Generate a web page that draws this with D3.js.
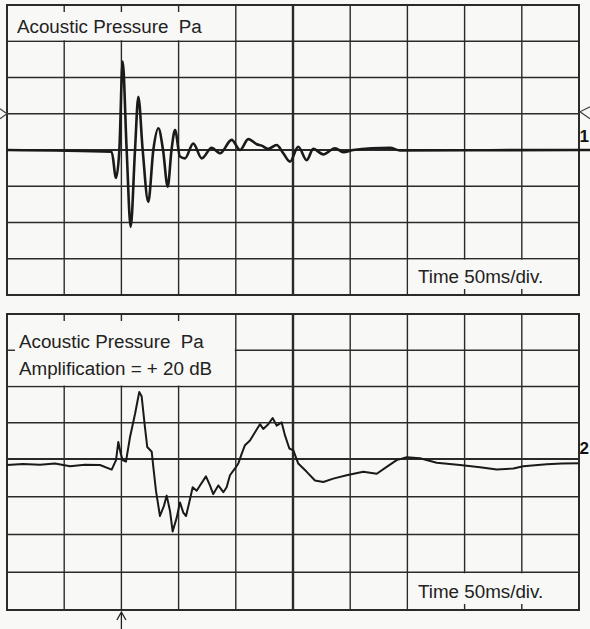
<!DOCTYPE html>
<html>
<head>
<meta charset="utf-8">
<script src="https://cdn.jsdelivr.net/npm/d3@7"></script>
<style>
  body { margin: 0; background: #f8f8f6; }
  svg { display: block; }
</style>
</head>
<body>
<script>
const POLICE = '"Liberation Sans", Arial, Helvetica, sans-serif'
const COULEUR_FOND = '#f8f8f6'
const COULEUR_GRILLE = '#2a2a2a'
const COULEUR_TRACE = '#1a1a1a'

const width = 590,
    height = 629

// 10 divisions of 50 ms, 8 vertical divisions
const timeTicks = [0, 50, 100, 150, 200, 250, 300, 350, 400, 450, 500]
const divTicks = [-4, -3, -2, -1, 0, 1, 2, 3, 4]

// trace 1 (time ms, pressure in divisions)
const topTime = [0, 91.5, 95.3, 98.2, 101.1, 104.6, 108.1, 111.9, 114.8, 118.6, 123.5, 127.9, 132.3, 136.4, 140.5, 143.8, 146.9,
    151.2, 155.6, 162.8, 170.2, 178.9, 186.2, 196.4, 203.7, 210.9, 218.3, 222.6, 228.4, 235.7, 241.5, 247.4, 254.6,
    262.0, 267.7, 276.5, 286.7, 294.0, 302.7, 318.8, 334.8, 343.5, 500, 513]
const topPressure = [0, -0.05, -0.77, 0, 2.44, 0, -2.12, 0, 1.47, 0, -1.43, 0, 0.6, 0, -1.01, 0, 0.55,
    -0.18, -0.23, 0.18, -0.23, 0.06, -0.09, 0.28, 0, 0.3, 0.16, 0.12, 0.03, 0.14, -0.09, -0.32, 0.09,
    -0.28, 0.03, -0.12, 0.05, -0.06, 0, 0.05, 0.06, -0.01, 0, 0]

// trace 2, +20 dB
const bottomTime = [0, 14, 28.8, 42, 55.1, 68, 81.3, 91.5, 95.3, 97.3, 99.4, 101.1, 104.0, 107.5, 111.9, 115.6, 117.7, 120.6,
    122.6, 126.5, 127.9, 130.2, 133.7, 137.2, 139.6, 142.5, 144.8, 148.3, 151.2, 154.1, 156.5, 159.3, 162.3, 165.8,
    168.7, 173.9, 177.4, 180.3, 184.7, 189.1, 192.0, 194.9, 199.3, 202.2, 205.2, 208.0, 212.4, 216.8, 221.1, 224.0,
    228.4, 232.2, 235.7, 240.1, 243.0, 246.8, 250.3, 254.6, 262.0, 269.2, 276.5, 285.2, 296.9, 311.4, 323.2, 331.9,
    340.6, 349.4, 361.0, 375.6, 396.0, 413.5, 428.1, 442.6, 451.3, 471.8, 485, 500]
const bottomPressure = [-0.16, -0.13, -0.15, -0.12, -0.19, -0.15, -0.16, -0.28, -0.03, 0.47, 0.15, -0.03, -0.07, 0.6, 1.24, 1.85, 1.73, 0.87,
    0.33, 0.2, -0.21, -0.84, -1.51, -1.24, -0.97, -1.38, -1.92, -1.56, -1.15, -1.42, -1.51, -1.15, -0.75, -0.84,
    -0.7, -0.46, -0.7, -0.93, -0.7, -0.88, -0.75, -0.43, -0.25, -0.12, 0.15, 0.38, 0.51, 0.74, 0.96, 0.83,
    0.96, 1.13, 0.92, 1.01, 0.65, 0.29, 0.24, -0.12, -0.34, -0.57, -0.61, -0.52, -0.43, -0.34, -0.39, -0.21,
    -0.03, 0.05, 0.02, -0.1, -0.16, -0.22, -0.28, -0.25, -0.19, -0.14, -0.12, -0.11]

const topLabels = ['Acoustic Pressure  Pa']
const bottomLabels = ['Acoustic Pressure  Pa', 'Amplification = + 20 dB']
const TIME_LABEL = 'Time 50ms/div.'
const TRIGGER_MS = 100

const svg = d3.select('body').append('svg')
    .attr('width', width).attr('height', height)
    .style('background-color', COULEUR_FOND)

const x = d3.scaleLinear().domain([0, 500]).range([7, 579])

function drawPanel(cfg) {
    const y = d3.scaleLinear().domain([-4, 0, 4]).range(cfg.yRange)
    const g = svg.append('g')

    // grid
    g.selectAll('line.v').data(timeTicks).join('line')
        .attr('x1', d => x(d)).attr('x2', d => x(d))
        .attr('y1', y(4)).attr('y2', y(-4))
        .attr('stroke', COULEUR_GRILLE).attr('stroke-width', d => d === 250 ? 2.4 : 1.4)
    g.selectAll('line.h').data(divTicks).join('line')
        .attr('x1', x(0)).attr('x2', x(500))
        .attr('y1', d => y(d)).attr('y2', d => y(d))
        .attr('stroke', COULEUR_GRILLE).attr('stroke-width', d => d === 0 ? 2.2 : 1.4)

    // label box (hides the grid under the text)
    g.append('rect')
        .attr('x', x(0) + 1).attr('y', y(4) + 1)
        .attr('width', x(200) - x(0) - 2).attr('height', y(cfg.boxBottom) - y(4) - 2)
        .attr('fill', COULEUR_FOND)
    g.append('rect')
        .attr('x', x(350) + 1).attr('y', y(-3) + 1)
        .attr('width', x(500) - x(350) - 2).attr('height', y(-4) - y(-3) - 2)
        .attr('fill', COULEUR_FOND)

    // small ticks where the grid is hidden
    g.selectAll('line.tt').data([50, 100, 150]).join('line')
        .attr('x1', d => x(d)).attr('x2', d => x(d))
        .attr('y1', y(4)).attr('y2', y(4) + 7)
        .attr('stroke', COULEUR_GRILLE).attr('stroke-width', 1.4)
    g.selectAll('line.tl').data(divTicks.filter(d => d > cfg.boxBottom && d < 4)).join('line')
        .attr('x1', x(0)).attr('x2', x(0) + 8)
        .attr('y1', d => y(d)).attr('y2', d => y(d))
        .attr('stroke', COULEUR_GRILLE).attr('stroke-width', 1.4)
    g.selectAll('line.tb').data([400, 450]).join('line')
        .attr('x1', d => x(d)).attr('x2', d => x(d))
        .attr('y1', y(-4)).attr('y2', y(-4) - 6)
        .attr('stroke', COULEUR_GRILLE).attr('stroke-width', 1.4)

    // border
    g.append('rect')
        .attr('x', x(0)).attr('y', y(4))
        .attr('width', x(500) - x(0)).attr('height', y(-4) - y(4))
        .attr('fill', 'none').attr('stroke', COULEUR_GRILLE).attr('stroke-width', 2)

    // texts
    g.selectAll('text.lab').data(cfg.labels).join('text')
        .attr('x', cfg.labelX).attr('y', (d, i) => y(4) + cfg.labelY + i * 27)
        .text(d => d)
        .attr('font-family', POLICE).attr('font-size', 18.8).attr('fill', '#222')
        .style('white-space', 'pre')
    g.append('text')
        .attr('x', 418).attr('y', y(-4) - 12)
        .text(TIME_LABEL)
        .attr('font-family', POLICE).attr('font-size', 18.8).attr('fill', '#222')

    // trace
    const line = d3.line()
        .x(d => x(d[0])).y(d => y(d[1]))
        .curve(cfg.curve)
    g.append('path')
        .datum(d3.zip(cfg.time, cfg.values))
        .attr('d', line)
        .attr('fill', 'none').attr('stroke', COULEUR_TRACE)
        .attr('stroke-width', cfg.traceWidth).attr('stroke-linejoin', 'round')

    // channel number
    g.append('text')
        .attr('x', 589).attr('y', cfg.numY)
        .attr('text-anchor', 'end')
        .text(cfg.num)
        .attr('font-family', POLICE).attr('font-size', 17).attr('font-weight', 'bold').attr('fill', '#111')

    return y
}

const yTop = drawPanel({
    yRange: [295, 150, 5], boxBottom: 3, labels: topLabels, labelX: 17, labelY: 28,
    time: topTime, values: topPressure, curve: d3.curveMonotoneX, traceWidth: 2.6,
    num: '1', numY: 142
})

drawPanel({
    yRange: [610, 459, 314], boxBottom: 2, labels: bottomLabels, labelX: 19, labelY: 34,
    time: bottomTime, values: bottomPressure, curve: d3.curveLinear, traceWidth: 2,
    num: '2', numY: 454
})

// trigger level markers on trace 1
const trig = yTop(1)
svg.append('path')
    .attr('d', `M0,${trig - 5}L7,${trig}L0,${trig + 5}`)
    .attr('fill', 'none').attr('stroke', '#444').attr('stroke-width', 1.2)
svg.append('path')
    .attr('d', `M590,${trig - 7}L580,${trig - 2}L590,${trig + 5}`)
    .attr('fill', 'none').attr('stroke', '#444').attr('stroke-width', 1.2)

// trigger time arrow
const ax = x(TRIGGER_MS)
svg.append('path')
    .attr('d', `M${ax},629V612M${ax - 4.5},620L${ax},612L${ax + 4.5},620`)
    .attr('fill', 'none').attr('stroke', '#222').attr('stroke-width', 1.3)
</script>
</body>
</html>
